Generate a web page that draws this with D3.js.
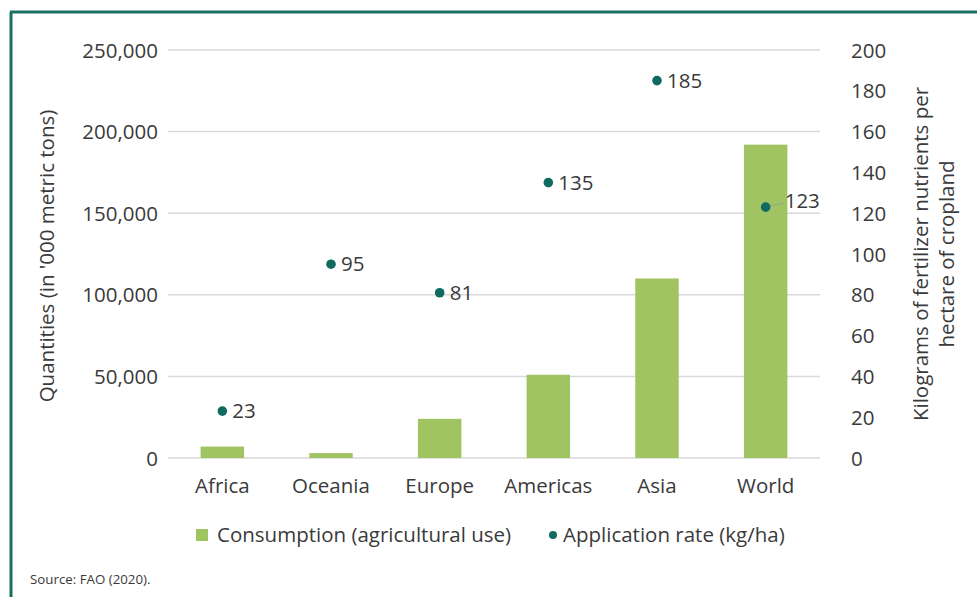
<!DOCTYPE html>
<html>
<head>
<meta charset="utf-8">
<script src="https://cdn.jsdelivr.net/npm/d3@7/dist/d3.min.js"></script>
<style>
  html, body { margin: 0; padding: 0; background: #ffffff; }
  svg { display: block; }
  text { font-family: "Open Sans", "Noto Sans", sans-serif; fill: #3a3a3a; }
</style>
</head>
<body>
<svg id="chart" width="977" height="597"></svg>
<script>
// Fertilizer consumption by region and application rate per hectare
const regions = ["Africa", "Oceania", "Europe", "Americas", "Asia", "World"];
const consumption = [7000, 3000, 24000, 51000, 110000, 192000];   // '000 metric tons
const applicationRate = [23, 95, 81, 135, 185, 123];              // kg/ha
const leftTicks = [0, 50000, 100000, 150000, 200000, 250000];
const rightTicks = [0, 20, 40, 60, 80, 100, 120, 140, 160, 180, 200];

const svg = d3.select("#chart");
const W = 977, H = 597;
const plot = { left: 168, right: 820, top: 50, bottom: 458 };
const fs = "20.5px";

const teal = "#0f6b5f";
const green = "#a0c462";
const grid = "#d9d9d9";

// frame along top and left edges
svg.append("line").attr("x1", 10).attr("x2", W).attr("y1", 12).attr("y2", 12)
  .attr("stroke", "#1b6e60").attr("stroke-width", 3);
svg.append("line").attr("x1", 11).attr("x2", 11).attr("y1", 12).attr("y2", H)
  .attr("stroke", "#1b6e60").attr("stroke-width", 3);

const x = d3.scaleBand().domain(regions).range([plot.left, plot.right]).paddingInner(0.6).paddingOuter(0.3);
const yL = d3.scaleLinear().domain([0, 250000]).range([plot.bottom, plot.top]);
const yR = d3.scaleLinear().domain([0, 200]).range([plot.bottom, plot.top]);

// gridlines
svg.append("g").selectAll("line").data(leftTicks).join("line")
  .attr("x1", plot.left).attr("x2", plot.right)
  .attr("y1", d => yL(d)).attr("y2", d => yL(d))
  .attr("stroke", grid).attr("stroke-width", 1.5);

function styleAxis(g) {
  g.select(".domain").remove();
  g.selectAll("text").style("font-size", fs).style("font-family", "'Open Sans', sans-serif")
    .attr("fill", "#3a3a3a").attr("dy", "0.35em");
}

// left axis
svg.append("g").attr("transform", `translate(${plot.left - 10},0)`)
  .call(d3.axisLeft(yL).tickValues(leftTicks).tickSize(0).tickPadding(0)
    .tickFormat(d3.format(",")))
  .call(styleAxis);

// right axis
svg.append("g").attr("transform", `translate(${plot.right + 31},0)`)
  .call(d3.axisRight(yR).tickValues(rightTicks).tickSize(0).tickPadding(0))
  .call(styleAxis);

// category axis
svg.append("g").attr("transform", `translate(0,${plot.bottom + 28})`)
  .call(d3.axisBottom(x).tickSize(0).tickPadding(0))
  .call(styleAxis);

// consumption bars
svg.append("g").selectAll("rect").data(regions).join("rect")
  .attr("x", d => x(d))
  .attr("width", x.bandwidth())
  .attr("y", (d, i) => yL(consumption[i]))
  .attr("height", (d, i) => yL(0) - yL(consumption[i]))
  .attr("fill", green);

// application rate points with value labels
const cx = d => x(d) + x.bandwidth() / 2;
const pts = svg.append("g");
regions.forEach((r, i) => {
  const px = cx(r), py = yR(applicationRate[i]);
  const isWorld = r === "World";
  if (isWorld) {
    pts.append("line").attr("x1", px + 4).attr("x2", px + 18)
      .attr("y1", py - 1).attr("y2", py - 4)
      .attr("stroke", "#9a9a9a").attr("stroke-width", 0.8);
  }
  pts.append("circle").attr("cx", px).attr("cy", py).attr("r", 4.8).attr("fill", teal);
  pts.append("text")
    .attr("x", px + (isWorld ? 19 : 10))
    .attr("y", py + (isWorld ? -6 : 0))
    .attr("dy", "0.35em")
    .style("font-size", fs)
    .text(applicationRate[i]);
});

// axis titles
svg.append("text")
  .attr("transform", `translate(47,${(plot.top + plot.bottom) / 2 + 2}) rotate(-90)`)
  .attr("text-anchor", "middle").attr("dy", "0.35em")
  .style("font-size", fs)
  .text("Quantities (in '000 metric tons)");

const rt = svg.append("text")
  .attr("transform", `translate(921,${(plot.top + plot.bottom) / 2}) rotate(-90)`)
  .attr("text-anchor", "middle").style("font-size", fs);
rt.append("tspan").attr("x", 0).attr("dy", "0.35em").text("Kilograms of fertilizer nutrients per");
rt.append("tspan").attr("x", 0).attr("dy", "1.25em").text("hectare of cropland");

// legend
const lg = svg.append("g").attr("transform", "translate(0,535)");
lg.append("rect").attr("x", 196).attr("y", -6).attr("width", 12).attr("height", 12).attr("fill", green);
lg.append("text").attr("x", 217).attr("dy", "0.35em").style("font-size", fs)
  .text("Consumption (agricultural use)");
lg.append("circle").attr("cx", 553).attr("cy", 0).attr("r", 4).attr("fill", teal);
lg.append("text").attr("x", 563).attr("dy", "0.35em").style("font-size", fs)
  .text("Application rate (kg/ha)");

// source note
svg.append("text").attr("x", 30).attr("y", 584)
  .style("font-size", "13.3px").style("font-family", "'Open Sans', sans-serif")
  .attr("fill", "#444")
  .text("Source: FAO (2020).");
</script>
</body>
</html>
